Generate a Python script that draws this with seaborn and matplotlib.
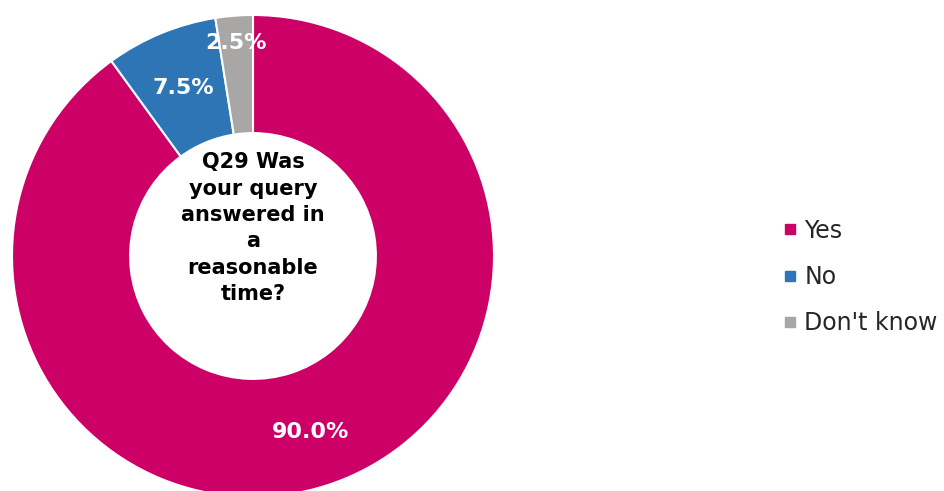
import numpy as np
import matplotlib
matplotlib.use("Agg")
import matplotlib.pyplot as plt
from matplotlib.lines import Line2D
import seaborn as sns

categories = ["Yes", "No", "Don't know"]
shares = [90.0, 7.5, 2.5]
colors = ["#CC0066", "#2E75B6", "#A9A6A6"]
center_title = "Q29 Was\nyour query\nanswered in\na\nreasonable\ntime?"

sns.set_theme(style="white")
plt.rcParams["font.family"] = ["DejaVu Sans"]
palette = sns.color_palette(colors)

fig = plt.figure(figsize=(9.44, 4.91), dpi=100)
W, H = 944, 491
cx, cy, R = 253, 491 - 256, 241
ax = fig.add_axes([(cx - R) / W, (cy - R) / H, 2 * R / W, 2 * R / H])

wedges, _ = ax.pie(
    shares, colors=palette, startangle=90, counterclock=False, radius=1.0,
    wedgeprops=dict(width=0.49, edgecolor="white", linewidth=1.5),
)
ax.set_xlim(-1, 1)
ax.set_ylim(-1, 1)
ax.set_axis_off()

# percentage labels placed at the middle angle of each wedge
label_r = [0.77, 0.755, 0.885]
for w, val, r in zip(wedges, shares, label_r):
    ang = np.deg2rad((w.theta1 + w.theta2) / 2)
    ax.text(r * np.cos(ang), r * np.sin(ang), f"{val:.1f}%", color="white",
            fontsize=16, fontweight="bold", ha="center", va="center")

ax.text(0, 0.115, center_title, ha="center", va="center", fontsize=15,
        fontweight="bold", color="black", linespacing=1.4)

handles = [Line2D([0], [0], marker="s", linestyle="none", markersize=7,
                  markerfacecolor=c, markeredgecolor=c) for c in palette]
fig.legend(handles, categories, loc="center left",
           bbox_to_anchor=(762 / W, (491 - 277) / H), frameon=False,
           fontsize=17, handlelength=0.6, handletextpad=0.3,
           labelspacing=0.95, labelcolor="#262626")

fig.savefig("out.png", dpi=100)
